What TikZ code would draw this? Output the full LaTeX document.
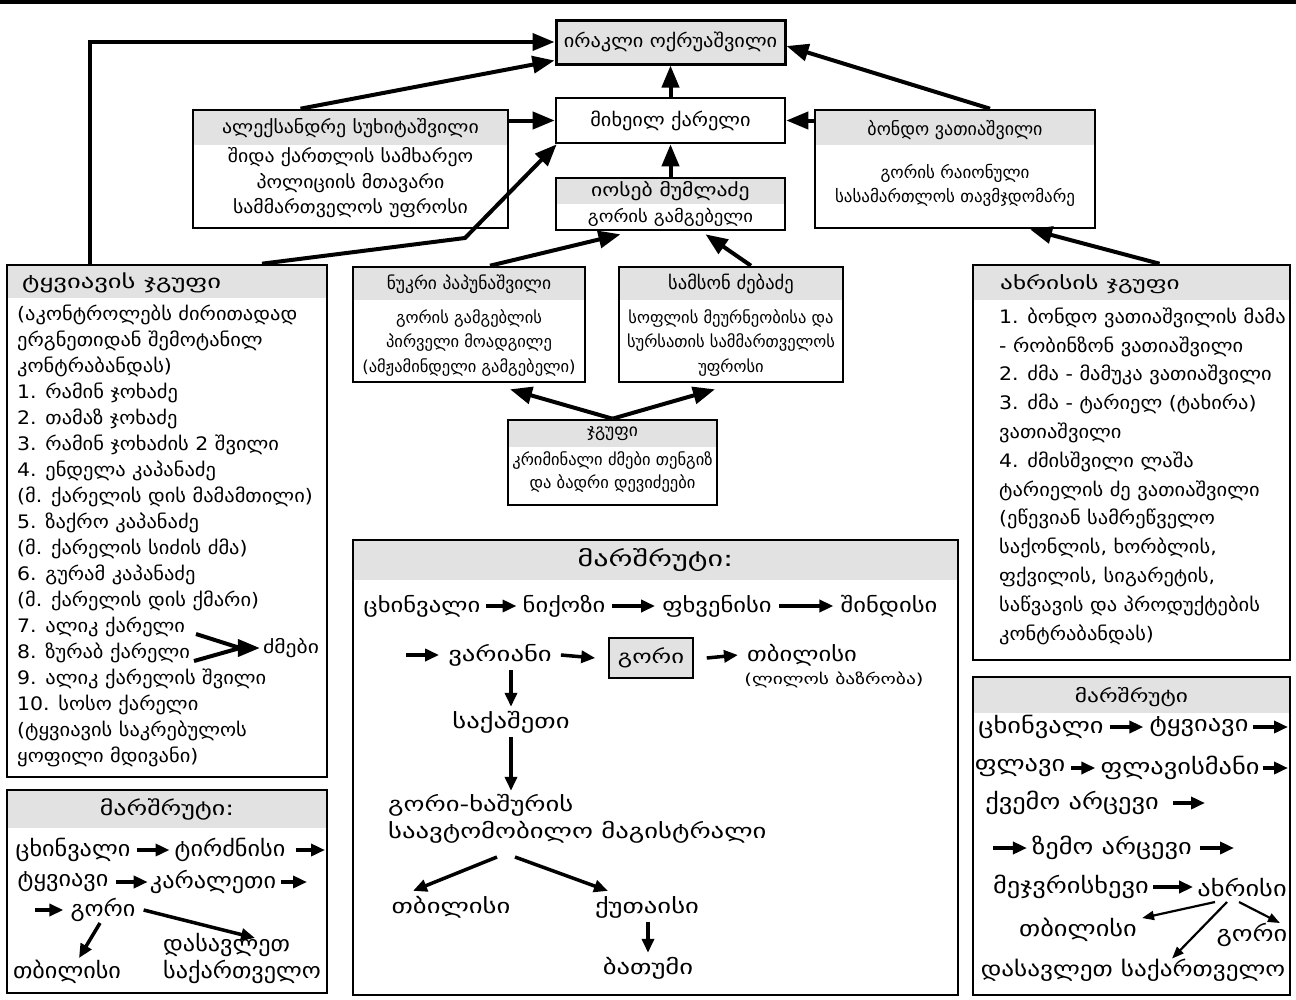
\documentclass[tikz,border=0pt]{standalone}
\usepackage{fontspec}
\setmainfont{DejaVu Sans}
\newfontfamily\geoA{DejaVu Sans}[FakeStretch=1.1]
\newfontfamily\geoB{DejaVu Sans}[FakeStretch=1.2]
\newfontfamily\geoC{DejaVu Sans}[FakeStretch=1.3]
\newfontfamily\geoD{DejaVu Sans}[FakeStretch=1.4]
\usetikzlibrary{arrows.meta}
\definecolor{hdrgray}{RGB}{226,226,226}
\begin{document}
\begin{tikzpicture}[x=1pt, y=-1pt,
  every node/.style={inner sep=0pt},
  tbox/.style={draw, line width=2.6pt, fill=white},
  hbox/.style={tbox, path picture={\fill[hdrgray] (path picture bounding box.north west) rectangle ([yshift=-#1]path picture bounding box.north east);}},
  hd/.style={font=\fontsize{17.5}{20}\selectfont},
  bd/.style={font=\fontsize{16.5}{#1}\selectfont, align=center},
  bd/.default=24,
  lst/.style={font=\geoA\fontsize{18.6}{#1}\selectfont, align=left, anchor=west},
  rt/.style={font=\geoC\fontsize{20.5}{27}\selectfont},
  rta/.style={font=\geoB\fontsize{20.5}{27}\selectfont},
  rl/.style={font=\geoA\fontsize{22}{27}\selectfont},
  rr/.style={font=\geoB\fontsize{22}{27}\selectfont},
  link/.style={line width=4pt, -{Triangle[length=22pt, width=17pt]}},
  rarr/.style={line width=3.5pt, -{Triangle[length=14pt, width=12pt]}},
  sarr/.style={line width=2.2pt, -{Triangle[length=12pt, width=9pt]}}]
\useasboundingbox (0,0) rectangle (1296,999);
\fill (0,0) rectangle (1296,4);

% top of the chain
\node[tbox, fill=hdrgray, line width=3pt, minimum width=229, minimum height=44, font=\geoA\fontsize{18.5}{20}\selectfont] (ira) at (670.5,42) {ირაკლი ოქრუაშვილი};
\node[tbox, minimum width=229, minimum height=45, font=\geoA\fontsize{18.5}{20}\selectfont] (mix) at (670.5,120.5) {მიხეილ ქარელი};
\node[hbox=35, minimum width=315, minimum height=118] (ale) at (350.5,169) {};
\node[font=\geoA\fontsize{18}{20}\selectfont] (ale-h) at (350.5,128) {ალექსანდრე სუხიტაშვილი};
\node[font=\geoA\fontsize{18}{25.5}\selectfont, align=center] (ale-b) at (350.5,183) {შიდა ქართლის სამხარეო\\პოლიციის მთავარი\\სამმართველოს უფროსი};
\node[hbox=26, minimum width=229, minimum height=52] (ios) at (670.5,204) {};
\node[font=\geoB\fontsize{18}{20}\selectfont] (ios-h) at (670.5,191) {იოსებ მუმლაძე};
\node[font=\geoA\fontsize{17}{20}\selectfont] (ios-b) at (670.5,217) {გორის გამგებელი};
\node[hbox=35, minimum width=280, minimum height=118] (bon) at (955,169) {};
\node[font=\fontsize{18}{20}\selectfont] (bon-h) at (955,130) {ბონდო ვათიაშვილი};
\node[font=\fontsize{17}{24}\selectfont, align=center] (bon-b) at (955,185) {გორის რაიონული\\სასამართლოს თავმჯდომარე};

% middle row
\node[hbox=33, minimum width=232, minimum height=115] (nuk) at (469,324.5) {};
\node[hd] (nuk-h) at (469,284) {ნუკრი პაპუნაშვილი};
\node[bd=24.5] (nuk-b) at (469,343) {გორის გამგებლის\\პირველი მოადგილე\\(ამჟამინდელი გამგებელი)};
\node[hbox=33, minimum width=224, minimum height=115] (sam) at (731,324.5) {};
\node[font=\fontsize{18.5}{20}\selectfont] (sam-h) at (731,284) {სამსონ ძებაძე};
\node[bd=24.5] (sam-b) at (731,343) {სოფლის მეურნეობისა და\\სურსათის სამმართველოს\\უფროსი};
\node[hbox=27, minimum width=209, minimum height=85] (jgu) at (612.5,462.5) {};
\node[hd] (jgu-h) at (612.5,434) {ჯგუფი};
\node[bd=23] (jgu-b) at (612.5,472) {კრიმინალი ძმები თენგიზ\\და ბადრი დევიძეები};

% tkviavi group
\node[hbox=33, minimum width=320, minimum height=512] (tkv) at (167,521) {};
\node[font=\geoD\fontsize{19}{20}\selectfont, anchor=west] (tkv-h) at (22,283) {ტყვიავის ჯგუფი};
\node[lst=26] (tkv-b) at (17,536) {(აკონტროლებს ძირითადად\\ერგნეთიდან შემოტანილ\\კონტრაბანდას)\\1. რამინ ჯოხაძე\\2. თამაზ ჯოხაძე\\3. რამინ ჯოხაძის 2 შვილი\\4. ენდელა კაპანაძე\\(მ. ქარელის დის მამამთილი)\\5. ზაქრო კაპანაძე\\(მ. ქარელის სიძის ძმა)\\6. გურამ კაპანაძე\\(მ. ქარელის დის ქმარი)\\7. ალიკ ქარელი\\8. ზურაბ ქარელი\\9. ალიკ ქარელის შვილი\\10. სოსო ქარელი\\(ტყვიავის საკრებულოს\\ყოფილი მდივანი)};
\node[font=\geoB\fontsize{18}{20}\selectfont] (bro) at (291,648) {ძმები};
\coordinate (b7) at (196,634);
\coordinate (b8) at (194,661);
\coordinate (bmid) at (240,648);
\draw[line width=4pt, line join=miter] (b7) -- (bmid) -- (b8);
\draw[link] (bmid) -- ([xshift=-3]bro.west);

% akhrisi group
\node[hbox=35, minimum width=317, minimum height=395] (akh) at (1131.5,462.5) {};
\node[font=\geoD\fontsize{18}{20}\selectfont, anchor=west] (akh-h) at (1000,284) {ახრისის ჯგუფი};
\node[lst=28.8] (akh-b) at (999,476) {1. ბონდო ვათიაშვილის მამა\\- რობინზონ ვათიაშვილი\\2. ძმა - მამუკა ვათიაშვილი\\3. ძმა - ტარიელ (ტახირა)\\ვათიაშვილი\\4. ძმისშვილი ლაშა\\ტარიელის ძე ვათიაშვილი\\(ეწევიან სამრეწველო\\საქონლის, ხორბლის,\\ფქვილის, სიგარეტის,\\საწვავის და პროდუქტების\\კონტრაბანდას)};

% links
\coordinate (kink) at (465,238);
\draw[link] ([xshift=-77]tkv.north) |- (ira.west);
\draw[link] ([xshift=95]tkv.north) -- (kink) -- ([xshift=2]mix.south west);
\draw[link] ([xshift=-50]ale.north) -- ([yshift=5]ira.south west);
\draw[link] (ale.east |- mix.west) -- (mix.west);
\draw[link] (mix.north) -- (ira.south);
\draw[link] (ios.north) -- (mix.south);
\draw[link] (bon.west |- mix.east) -- (mix.east);
\draw[link] ([xshift=35]bon.north) -- ([yshift=-4]ira.east);
\draw[link] ([xshift=28]akh.north) -- ([xshift=75]bon.south);
\draw[link] ([xshift=21]nuk.north) -- ([xshift=-50,yshift=-3]ios.south);
\draw[link] ([xshift=20]sam.north) -- ([xshift=35,yshift=-3]ios.south);
\draw[link] (jgu.north) -- ([xshift=41,yshift=-6]nuk.south);
\draw[link] (jgu.north) -- ([xshift=-16,yshift=-6]sam.south);

% central route
\node[hbox=40, minimum width=605, minimum height=455] (rtc) at (655.5,767.5) {};
\node[font=\geoD\fontsize{21.5}{27}\selectfont] (rtc-h) at (655.5,560) {მარშრუტი:};
\node[rta] (c1) at (422,606) {ცხინვალი};
\node[rta] (c2) at (564,606) {ნიქოზი};
\node[rta] (c3) at (717,606) {ფხვენისი};
\node[rta] (c4) at (889,606) {შინდისი};
\draw[rarr] ([xshift=6]c1.east) -- ([xshift=-6]c2.west);
\draw[rarr] ([xshift=7]c2.east) -- ([xshift=-7]c3.west);
\draw[rarr] ([xshift=7]c3.east) -- ([xshift=-7]c4.west);
\coordinate (c0) at (406,655);
\node[rt] (c5) at (500,655) {ვარიანი};
\node[tbox, fill=hdrgray, line width=1.5pt, minimum width=84, minimum height=40, font=\geoC\fontsize{19}{27}\selectfont] (c6) at (651,658) {გორი};
\node[rta] (c7) at (802,655) {თბილისი};
\node[font=\geoC\fontsize{15}{17}\selectfont] (c8) at (834,680) {(ლილოს ბაზრობა)};
\draw[rarr] (c0) -- ([xshift=-9]c5.west);
\draw[rarr] ([xshift=9]c5.east) -- ([xshift=-13]c6.west);
\draw[rarr] ([xshift=13]c6.east) -- ([xshift=-9]c7.west);
\node[rt] (c9) at (511,722) {საქაშეთი};
\draw[rarr] ([yshift=-4]c9.north |- c5.south) -- ([yshift=4]c9.north);
\node[rt, anchor=west] (c10) at (388,805) {გორი-ხაშურის};
\node[rt, anchor=west] (c11) at (388,832) {საავტომობილო მაგისტრალი};
\draw[rarr] ([yshift=-4]c9.south) -- ([yshift=3]c9.south |- c10.north);
\node[rt] (c12) at (451,907) {თბილისი};
\node[rt] (c13) at (647,907) {ქუთაისი};
\node[rt] (c14) at (648,968) {ბათუმი};
\coordinate (gk) at (506,857);
\draw[rarr] ([xshift=-9]gk) -- ([xshift=-38,yshift=5]c12.north);
\draw[rarr] ([xshift=9]gk) -- ([xshift=-39,yshift=5]c13.north);
\draw[rarr] ([yshift=-4]c13.south -| c14.north) -- ([yshift=4]c14.north);

% left route
\node[hbox=38, minimum width=320, minimum height=203] (rtl) at (167,891.5) {};
\node[font=\geoC\fontsize{20}{24}\selectfont] (rtl-h) at (167,809) {მარშრუტი:};
\node[rl] (l1) at (73,850) {ცხინვალი};
\node[rl] (l2) at (230,850) {ტირძნისი};
\coordinate (l2e) at (325,850);
\draw[rarr] ([xshift=6]l1.east) -- ([xshift=-5]l2.west);
\draw[rarr] ([xshift=10]l2.east) -- (l2e);
\node[rl] (l3) at (63,882) {ტყვიავი};
\node[rl] (l4) at (213,882) {კარალეთი};
\coordinate (l4e) at (307,882);
\draw[rarr] ([xshift=8]l3.east) -- ([xshift=-2]l4.west);
\draw[rarr] ([xshift=5]l4.east) -- (l4e);
\coordinate (l5s) at (35,910);
\node[rl] (l5) at (103,910) {გორი};
\draw[rarr] (l5s) -- ([xshift=-7]l5.west);
\node[rl] (l6) at (67,972) {თბილისი};
\node[rl, align=left, anchor=west] (l7) at (163,958) {დასავლეთ\\საქართველო};
\coordinate (lg) at (100,923);
\coordinate (lt) at (255,938);
\draw[rarr] (lg) -- ([xshift=12,yshift=2]l6.north);
\draw[rarr] ([xshift=8]l5.east) -- (lt);

% right route
\node[hbox=36, minimum width=317, minimum height=318] (rtr) at (1131.5,836) {};
\node[font=\geoC\fontsize{18}{20}\selectfont] (rtr-h) at (1131.5,697) {მარშრუტი};
\node[rr] (r1) at (1041,727) {ცხინვალი};
\node[rr] (r2) at (1199,727) {ტყვიავი};
\coordinate (r2e) at (1288,727);
\draw[rarr] ([xshift=6]r1.east) -- ([xshift=-6]r2.west);
\draw[rarr] ([xshift=4]r2.east) -- (r2e);
\node[rr] (r3) at (1020,768) {ფლავი};
\node[rr] (r4) at (1180,768) {ფლავისმანი};
\coordinate (r4e) at (1288,768);
\draw[rarr] ([xshift=6]r3.east) -- ([xshift=-5]r4.west);
\draw[rarr] ([xshift=3]r4.east) -- (r4e);
\node[rr] (r5) at (1072,803) {ქვემო არცევი};
\coordinate (r5e) at (1205,803);
\draw[rarr] ([xshift=14]r5.east) -- (r5e);
\coordinate (r6s) at (993,848);
\node[rr] (r6) at (1112,848) {ზემო არცევი};
\coordinate (r6e) at (1234,848);
\draw[rarr] (r6s) -- ([xshift=-5]r6.west);
\draw[rarr] ([xshift=8]r6.east) -- (r6e);
\node[rr] (r7) at (1071,887) {მეჯვრისხევი};
\node[rr] (r8) at (1242,887) {ახრისი};
\draw[rarr] ([xshift=4]r7.east) -- ([xshift=-4]r8.west);
\node[rr] (r9) at (1078,930) {თბილისი};
\node[rr] (r10) at (1252,935) {გორი};
\node[font=\geoB\fontsize{21}{27}\selectfont] (r11) at (1133,970) {დასავლეთ საქართველო};
\coordinate (ak) at (1227,902);
\draw[sarr] ([xshift=-12]ak) -- ([xshift=5]r9.north east);
\draw[sarr] (ak) -- ([xshift=39]r11.north);
\draw[sarr] ([xshift=12]ak) -- ([xshift=28]r10.north);
\end{tikzpicture}
\end{document}
